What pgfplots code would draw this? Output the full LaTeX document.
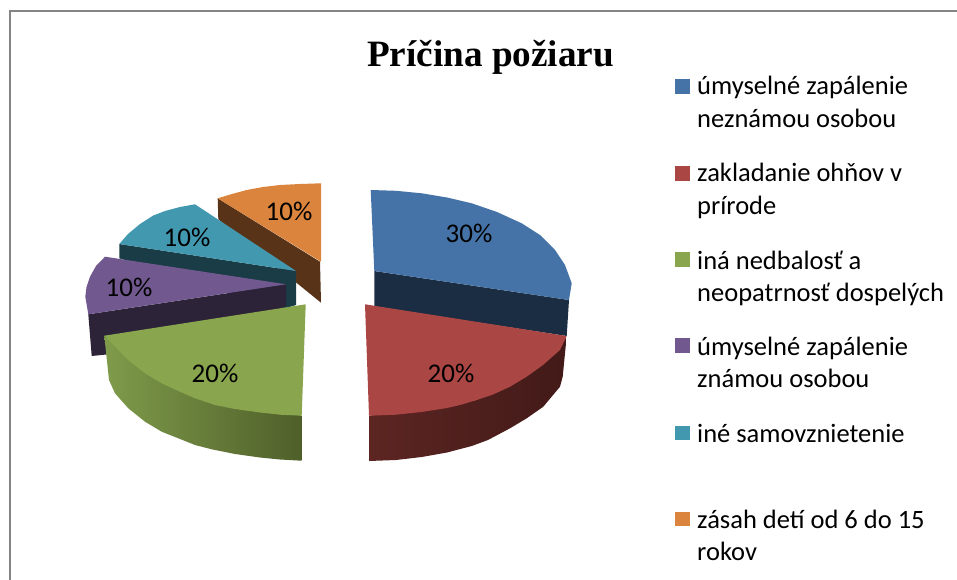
\documentclass[border=0pt]{standalone}
\usepackage{pgfplots}
\pgfplotsset{compat=1.18}
\usepackage{fontspec}
\setmainfont{Carlito}
\newfontfamily\titlefont{Liberation Serif}
\definecolor{cBlue}{HTML}{4573A7}\definecolor{dBlue}{HTML}{1B2D42}
\definecolor{cRed}{HTML}{AA4643}\definecolor{dRedA}{HTML}{5C2522}\definecolor{dRedB}{HTML}{421A18}
\definecolor{cGreen}{HTML}{89A54E}\definecolor{dGreenA}{HTML}{7F9B4A}\definecolor{dGreenB}{HTML}{4F5F2A}
\definecolor{cPurple}{HTML}{71588F}\definecolor{dPurple}{HTML}{2D2339}
\definecolor{cTeal}{HTML}{4198AF}\definecolor{dTeal}{HTML}{1A3C46}
\definecolor{cOrange}{HTML}{DB843D}\definecolor{dOrange}{HTML}{593318}
\definecolor{frame}{HTML}{848484}
\tikzset{
  lab/.style={font=\fontsize{27}{27}\selectfont, text=black},
  leg/.style={font=\fontsize{26.5}{26.5}\selectfont, text=black, anchor=base west, inner sep=0pt},
}
\begin{document}
\begin{tikzpicture}
\begin{axis}[
  at={(0,0)}, anchor=south west,
  scale only axis, width=957pt, height=580pt,
  xmin=0, xmax=957, ymin=0, ymax=580, y dir=reverse,
  hide axis, clip=true,
]
% page
\addplot[fill=white, draw=none] coordinates {(0,0)(957,0)(957,580)(0,580)} --cycle;
\addplot[draw=frame, line width=2pt] coordinates {(10,580)(10,11.5)(957,11.5)};

% orange slice
\addplot[fill=dOrange, draw=none] coordinates {(217.7,198.3)(320,261.7)(321,302.7)(218.3,219.3)} --cycle;
\addplot[fill=cOrange, draw=none] coordinates {(217.7,198.3)(232,194)(246.7,190)(263,187)(280,185)(300,184)(321,183.3)(321,261.7)} --cycle;
% teal slice
\addplot[fill=dTeal, draw=none] coordinates {(119.3,244)(296,271)(296,305)(280,310)(119.3,258.3)} --cycle;
\addplot[fill=cTeal, draw=none] coordinates {(119.3,244)(128,234)(140,224)(153.3,215.5)(165,211)(180,207)(195,204.3)(296,271)} --cycle;
% purple slice
\addplot[fill=dPurple, draw=none] coordinates {(88.3,314.3)(286,284.3)(286,306)(200,345)(91.7,356)} --cycle;
\addplot[fill=cPurple, draw=none] coordinates {(105,256.7)(96,266)(90,276.7)(86.5,287)(85.3,296.7)(88.3,314.3)(286,284.3)} --cycle;
% green slice
\addplot[left color=dGreenA, right color=dGreenB, draw=none] coordinates {(104.3,335.7)(109,380)(115,393.3)(128.3,408.3)(145,421.7)(161.7,431.7)(178.3,438.3)(195,445)(211.7,449.3)(235,454)(260,457.5)(280,459.5)(301.7,460.7)(301.7,415.7)(161.7,380)} --cycle;
\addplot[fill=cGreen, draw=none] coordinates {(104.3,335.7)(305.7,304.3)(301.7,415.7)(280,414.7)(260,412.5)(235,409)(215,405)(195,398.3)(178.3,391)(161.7,383.3)(145,373.3)(128,360)(115,346.7)} --cycle;

% blue slice
\addplot[fill=dBlue, draw=none] coordinates {(374.3,271)(569,300)(566.7,336)(374.3,306.7)} --cycle;
\addplot[fill=cBlue, draw=none] coordinates {(370.7,190)(396,190.8)(421.7,193.3)(447,197.5)(471.7,203.3)(497,212)(521.7,223.3)(540,235)(555,250)(565,265)(571.7,283.3)(569,300)(374.3,271)} --cycle;
% red slice
\addplot[left color=dRedA, middle color=dRedB, right color=dRedB, draw=none] coordinates {(369,415.7)(369,461)(396,460)(421.7,457)(447,452.5)(471.7,446)(488,440)(510,428.3)(526.7,418.3)(543.3,406.7)(560,386.7)(562.7,376.7)(566.7,336)(476.7,400)} --cycle;
\addplot[fill=cRed, draw=none] coordinates {(365,304.3)(566.7,336)(560,350)(543,365)(526.7,376.7)(510,386.7)(493,394.5)(476.7,400)(460,405)(447,408)(421.7,412)(396,414.7)(369,415.7)} --cycle;

% legend swatches
\addplot[fill=cBlue, draw=none] coordinates {(675,79.3)(690,79.3)(690,94)(675,94)} --cycle;
\addplot[fill=cRed, draw=none] coordinates {(675,166)(690,166)(690,180.7)(675,180.7)} --cycle;
\addplot[fill=cGreen, draw=none] coordinates {(675,252.3)(690,252.3)(690,267)(675,267)} --cycle;
\addplot[fill=cPurple, draw=none] coordinates {(675,338)(690,338)(690,352.7)(675,352.7)} --cycle;
\addplot[fill=cTeal, draw=none] coordinates {(675,425.5)(690,425.5)(690,440.2)(675,440.2)} --cycle;
\addplot[fill=cOrange, draw=none] coordinates {(675,511.5)(690,511.5)(690,526.2)(675,526.2)} --cycle;

% title
\node[font=\titlefont\bfseries\fontsize{37.2}{37.2}\selectfont, text=black, anchor=base] at (axis cs:490.5,67) {Príčina požiaru};

% data labels
\node[lab] at (axis cs:469,233) {30\%};
\node[lab] at (axis cs:451,373) {20\%};
\node[lab] at (axis cs:215,373) {20\%};
\node[lab] at (axis cs:129,287) {10\%};
\node[lab] at (axis cs:187,237) {10\%};
\node[lab] at (axis cs:289,211) {10\%};

% legend text
\node[leg] at (axis cs:697,95) {úmyselné zapálenie};
\node[leg] at (axis cs:697,128) {neznámou osobou};
\node[leg] at (axis cs:697,182) {zakladanie ohňov v};
\node[leg] at (axis cs:697,214) {prírode};
\node[leg] at (axis cs:697,269) {iná nedbalosť a};
\node[leg] at (axis cs:697,301) {neopatrnosť dospelých};
\node[leg] at (axis cs:697,355) {úmyselné zapálenie};
\node[leg] at (axis cs:697,387) {známou osobou};
\node[leg] at (axis cs:697,442) {iné samovznietenie};
\node[leg] at (axis cs:697,528) {zásah detí od 6 do 15};
\node[leg] at (axis cs:697,560) {rokov};
\end{axis}
\end{tikzpicture}
\end{document}
